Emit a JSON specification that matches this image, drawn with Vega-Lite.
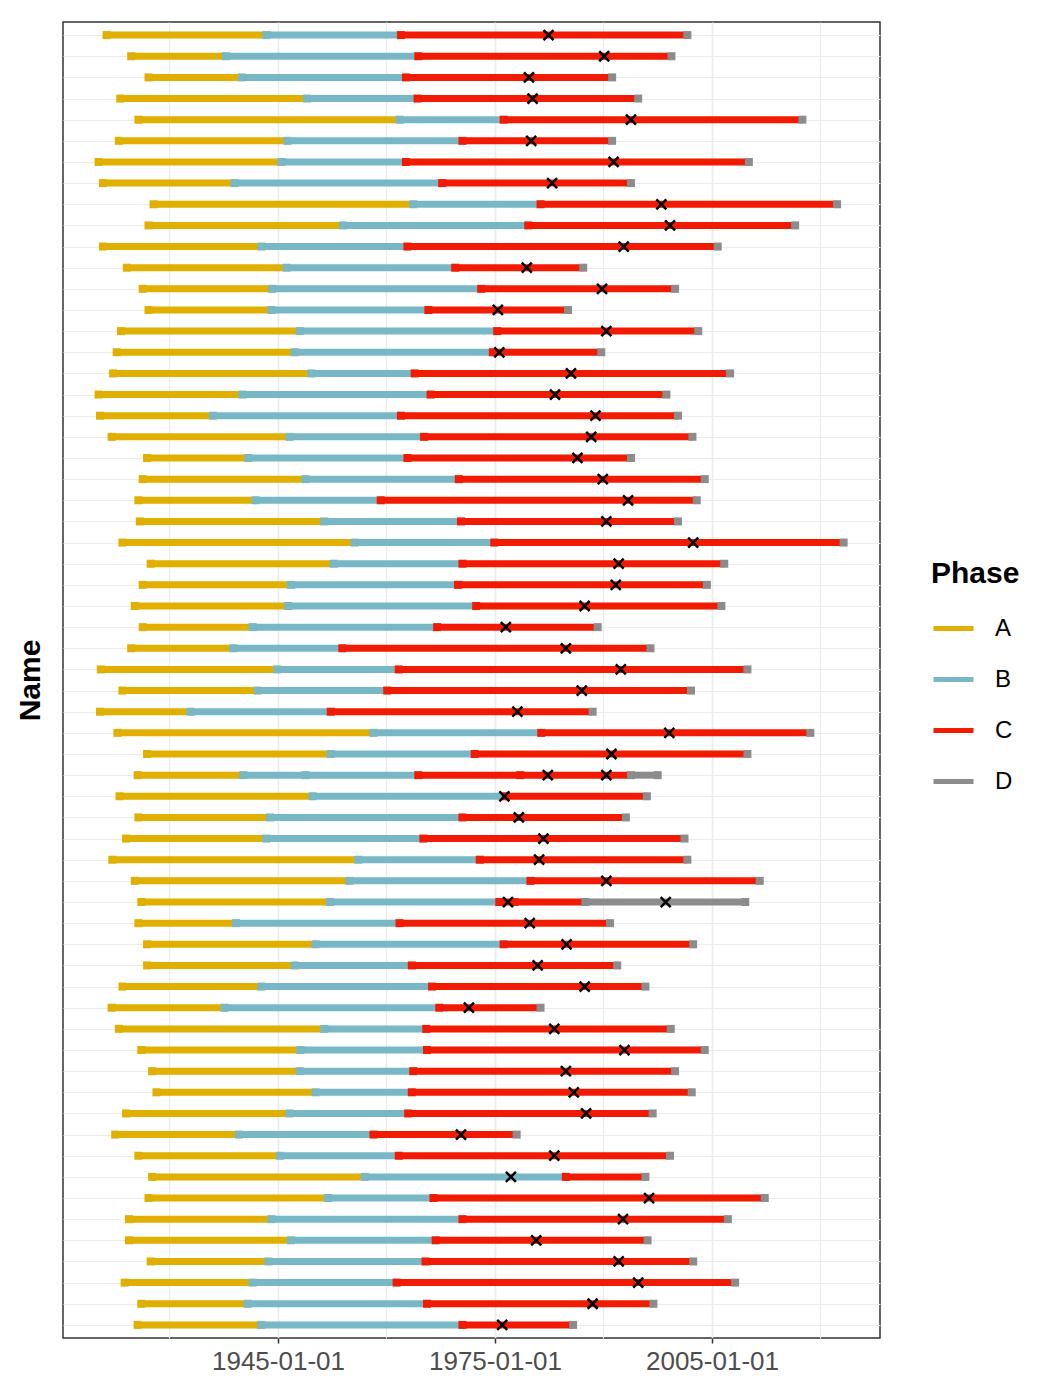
{
  "$schema": "https://vega.github.io/schema/vega-lite/v6.json",
  "width": 817,
  "height": 1316,
  "autosize": {"type": "none"},
  "padding": {"left": 63, "top": 22, "right": 158, "bottom": 38},
  "background": "white",
  "config": {
    "font": "Liberation Sans",
    "view": {"stroke": "#333333", "strokeWidth": 1.5},
    "legend": {
      "orient": "none", "legendX": 868, "legendY": 537, "padding": 0,
      "titleFontSize": 30, "titleFontWeight": "bold", "titleColor": "black", "titlePadding": 17,
      "labelFontSize": 24, "labelColor": "black", "labelOffset": 19,
      "symbolType": "stroke", "symbolStrokeWidth": 5, "symbolSize": 1600, "rowPadding": 16
    }
  },
  "datasets": {
    "seg": [
      {"name":"R01","phase":"A","start":1921.3,"end":1943.4},{"name":"R01","phase":"B","start":1943.4,"end":1962.0},{"name":"R01","phase":"C","start":1962.0,"end":2001.6},
      {"name":"R02","phase":"A","start":1924.7,"end":1937.8},{"name":"R02","phase":"B","start":1937.8,"end":1964.4},{"name":"R02","phase":"C","start":1964.4,"end":1999.4},
      {"name":"R03","phase":"A","start":1927.1,"end":1940.0},{"name":"R03","phase":"B","start":1940.0,"end":1962.7},{"name":"R03","phase":"C","start":1962.7,"end":1991.2},
      {"name":"R04","phase":"A","start":1923.2,"end":1949.0},{"name":"R04","phase":"B","start":1949.0,"end":1964.3},{"name":"R04","phase":"C","start":1964.3,"end":1994.8},
      {"name":"R05","phase":"A","start":1925.7,"end":1961.8},{"name":"R05","phase":"B","start":1961.8,"end":1976.2},{"name":"R05","phase":"C","start":1976.2,"end":2017.5},
      {"name":"R06","phase":"A","start":1923.0,"end":1946.3},{"name":"R06","phase":"B","start":1946.3,"end":1970.5},{"name":"R06","phase":"C","start":1970.5,"end":1991.2},
      {"name":"R07","phase":"A","start":1920.2,"end":1945.5},{"name":"R07","phase":"B","start":1945.5,"end":1962.7},{"name":"R07","phase":"C","start":1962.7,"end":2010.1},
      {"name":"R08","phase":"A","start":1920.8,"end":1939.0},{"name":"R08","phase":"B","start":1939.0,"end":1967.7},{"name":"R08","phase":"C","start":1967.7,"end":1993.8},
      {"name":"R09","phase":"A","start":1927.8,"end":1963.7},{"name":"R09","phase":"B","start":1963.7,"end":1981.3},{"name":"R09","phase":"C","start":1981.3,"end":2022.3},
      {"name":"R10","phase":"A","start":1927.1,"end":1954.0},{"name":"R10","phase":"B","start":1954.0,"end":1979.6},{"name":"R10","phase":"C","start":1979.6,"end":2016.5},
      {"name":"R11","phase":"A","start":1920.8,"end":1942.7},{"name":"R11","phase":"B","start":1942.7,"end":1962.9},{"name":"R11","phase":"C","start":1962.9,"end":2005.8},
      {"name":"R12","phase":"A","start":1924.1,"end":1946.2},{"name":"R12","phase":"B","start":1946.2,"end":1969.5},{"name":"R12","phase":"C","start":1969.5,"end":1987.2},
      {"name":"R13","phase":"A","start":1926.3,"end":1944.2},{"name":"R13","phase":"B","start":1944.2,"end":1973.1},{"name":"R13","phase":"C","start":1973.1,"end":1999.9},
      {"name":"R14","phase":"A","start":1927.1,"end":1944.1},{"name":"R14","phase":"B","start":1944.1,"end":1965.8},{"name":"R14","phase":"C","start":1965.8,"end":1985.1},
      {"name":"R15","phase":"A","start":1923.3,"end":1948.0},{"name":"R15","phase":"B","start":1948.0,"end":1975.3},{"name":"R15","phase":"C","start":1975.3,"end":2003.1},
      {"name":"R16","phase":"A","start":1922.7,"end":1947.3},{"name":"R16","phase":"B","start":1947.3,"end":1974.7},{"name":"R16","phase":"C","start":1974.7,"end":1989.7},
      {"name":"R17","phase":"A","start":1922.2,"end":1949.6},{"name":"R17","phase":"B","start":1949.6,"end":1963.9},{"name":"R17","phase":"C","start":1963.9,"end":2007.5},
      {"name":"R18","phase":"A","start":1920.2,"end":1940.1},{"name":"R18","phase":"B","start":1940.1,"end":1966.1},{"name":"R18","phase":"C","start":1966.1,"end":1998.7},
      {"name":"R19","phase":"A","start":1920.4,"end":1936.0},{"name":"R19","phase":"B","start":1936.0,"end":1962.0},{"name":"R19","phase":"C","start":1962.0,"end":2000.3},
      {"name":"R20","phase":"A","start":1922.0,"end":1946.6},{"name":"R20","phase":"B","start":1946.6,"end":1965.2},{"name":"R20","phase":"C","start":1965.2,"end":2002.3},
      {"name":"R21","phase":"A","start":1926.9,"end":1940.9},{"name":"R21","phase":"B","start":1940.9,"end":1962.9},{"name":"R21","phase":"C","start":1962.9,"end":1993.8},
      {"name":"R22","phase":"A","start":1926.3,"end":1948.8},{"name":"R22","phase":"B","start":1948.8,"end":1970.0},{"name":"R22","phase":"C","start":1970.0,"end":2004.0},
      {"name":"R23","phase":"A","start":1925.7,"end":1941.9},{"name":"R23","phase":"B","start":1941.9,"end":1959.2},{"name":"R23","phase":"C","start":1959.2,"end":2002.9},
      {"name":"R24","phase":"A","start":1925.9,"end":1951.4},{"name":"R24","phase":"B","start":1951.4,"end":1970.3},{"name":"R24","phase":"C","start":1970.3,"end":2000.3},
      {"name":"R25","phase":"A","start":1923.5,"end":1955.6},{"name":"R25","phase":"B","start":1955.6,"end":1974.9},{"name":"R25","phase":"C","start":1974.9,"end":2023.2},
      {"name":"R26","phase":"A","start":1927.4,"end":1952.7},{"name":"R26","phase":"B","start":1952.7,"end":1970.5},{"name":"R26","phase":"C","start":1970.5,"end":2006.7},
      {"name":"R27","phase":"A","start":1926.3,"end":1946.8},{"name":"R27","phase":"B","start":1946.8,"end":1969.9},{"name":"R27","phase":"C","start":1969.9,"end":2004.3},
      {"name":"R28","phase":"A","start":1925.2,"end":1946.4},{"name":"R28","phase":"B","start":1946.4,"end":1972.4},{"name":"R28","phase":"C","start":1972.4,"end":2006.3},
      {"name":"R29","phase":"A","start":1926.3,"end":1941.5},{"name":"R29","phase":"B","start":1941.5,"end":1967.0},{"name":"R29","phase":"C","start":1967.0,"end":1989.2},
      {"name":"R30","phase":"A","start":1924.7,"end":1938.8},{"name":"R30","phase":"B","start":1938.8,"end":1953.9},{"name":"R30","phase":"C","start":1953.9,"end":1996.5},
      {"name":"R31","phase":"A","start":1920.5,"end":1944.9},{"name":"R31","phase":"B","start":1944.9,"end":1961.7},{"name":"R31","phase":"C","start":1961.7,"end":2009.9},
      {"name":"R32","phase":"A","start":1923.5,"end":1942.2},{"name":"R32","phase":"B","start":1942.2,"end":1960.1},{"name":"R32","phase":"C","start":1960.1,"end":2002.1},
      {"name":"R33","phase":"A","start":1920.4,"end":1932.9},{"name":"R33","phase":"B","start":1932.9,"end":1952.3},{"name":"R33","phase":"C","start":1952.3,"end":1988.5},
      {"name":"R34","phase":"A","start":1922.8,"end":1958.2},{"name":"R34","phase":"B","start":1958.2,"end":1981.4},{"name":"R34","phase":"C","start":1981.4,"end":2018.6},
      {"name":"R35","phase":"A","start":1926.9,"end":1952.3},{"name":"R35","phase":"B","start":1952.3,"end":1972.2},{"name":"R35","phase":"C","start":1972.2,"end":2009.9},
      {"name":"R36","phase":"A","start":1925.6,"end":1940.2},{"name":"R36","phase":"B","start":1940.2,"end":1948.8},{"name":"R36","phase":"B","start":1948.8,"end":1964.4},{"name":"R36","phase":"C","start":1964.4,"end":1978.5},{"name":"R36","phase":"C","start":1978.5,"end":1993.8},{"name":"R36","phase":"D","start":1993.8,"end":1997.5},
      {"name":"R37","phase":"A","start":1923.1,"end":1949.8},{"name":"R37","phase":"B","start":1949.8,"end":1976.5},{"name":"R37","phase":"C","start":1976.5,"end":1996.0},
      {"name":"R38","phase":"A","start":1925.7,"end":1943.9},{"name":"R38","phase":"B","start":1943.9,"end":1970.5},{"name":"R38","phase":"C","start":1970.5,"end":1993.1},
      {"name":"R39","phase":"A","start":1924.0,"end":1943.4},{"name":"R39","phase":"B","start":1943.4,"end":1965.1},{"name":"R39","phase":"C","start":1965.1,"end":2001.2},
      {"name":"R40","phase":"A","start":1922.1,"end":1956.1},{"name":"R40","phase":"B","start":1956.1,"end":1972.9},{"name":"R40","phase":"C","start":1972.9,"end":2001.6},
      {"name":"R41","phase":"A","start":1925.2,"end":1954.9},{"name":"R41","phase":"B","start":1954.9,"end":1979.9},{"name":"R41","phase":"C","start":1979.9,"end":2011.6},
      {"name":"R42","phase":"A","start":1926.1,"end":1952.2},{"name":"R42","phase":"B","start":1952.2,"end":1975.6},{"name":"R42","phase":"C","start":1975.6,"end":1977.7},{"name":"R42","phase":"C","start":1977.7,"end":1987.5},{"name":"R42","phase":"D","start":1987.5,"end":2009.6},
      {"name":"R43","phase":"A","start":1925.7,"end":1939.2},{"name":"R43","phase":"B","start":1939.2,"end":1961.8},{"name":"R43","phase":"C","start":1961.8,"end":1990.9},
      {"name":"R44","phase":"A","start":1926.9,"end":1950.2},{"name":"R44","phase":"B","start":1950.2,"end":1976.2},{"name":"R44","phase":"C","start":1976.2,"end":2002.4},
      {"name":"R45","phase":"A","start":1926.9,"end":1947.3},{"name":"R45","phase":"B","start":1947.3,"end":1963.5},{"name":"R45","phase":"C","start":1963.5,"end":1991.9},
      {"name":"R46","phase":"A","start":1923.5,"end":1942.7},{"name":"R46","phase":"B","start":1942.7,"end":1966.3},{"name":"R46","phase":"C","start":1966.3,"end":1995.8},
      {"name":"R47","phase":"A","start":1922.0,"end":1937.6},{"name":"R47","phase":"B","start":1937.6,"end":1967.3},{"name":"R47","phase":"C","start":1967.3,"end":1981.3},
      {"name":"R48","phase":"A","start":1923.0,"end":1951.4},{"name":"R48","phase":"B","start":1951.4,"end":1965.5},{"name":"R48","phase":"C","start":1965.5,"end":1999.3},
      {"name":"R49","phase":"A","start":1926.1,"end":1948.1},{"name":"R49","phase":"B","start":1948.1,"end":1965.6},{"name":"R49","phase":"C","start":1965.6,"end":2004.0},
      {"name":"R50","phase":"A","start":1927.6,"end":1948.0},{"name":"R50","phase":"B","start":1948.0,"end":1963.7},{"name":"R50","phase":"C","start":1963.7,"end":1999.9},
      {"name":"R51","phase":"A","start":1928.2,"end":1950.2},{"name":"R51","phase":"B","start":1950.2,"end":1963.5},{"name":"R51","phase":"C","start":1963.5,"end":2002.2},
      {"name":"R52","phase":"A","start":1924.0,"end":1946.6},{"name":"R52","phase":"B","start":1946.6,"end":1963.0},{"name":"R52","phase":"C","start":1963.0,"end":1996.8},
      {"name":"R53","phase":"A","start":1922.5,"end":1939.6},{"name":"R53","phase":"B","start":1939.6,"end":1958.2},{"name":"R53","phase":"C","start":1958.2,"end":1978.0},
      {"name":"R54","phase":"A","start":1925.7,"end":1945.3},{"name":"R54","phase":"B","start":1945.3,"end":1961.7},{"name":"R54","phase":"C","start":1961.7,"end":1999.2},
      {"name":"R55","phase":"A","start":1927.6,"end":1957.0},{"name":"R55","phase":"B","start":1957.0,"end":1984.8},{"name":"R55","phase":"C","start":1984.8,"end":1995.8},
      {"name":"R56","phase":"A","start":1927.1,"end":1951.9},{"name":"R56","phase":"B","start":1951.9,"end":1966.5},{"name":"R56","phase":"C","start":1966.5,"end":2012.3},
      {"name":"R57","phase":"A","start":1924.4,"end":1944.1},{"name":"R57","phase":"B","start":1944.1,"end":1970.5},{"name":"R57","phase":"C","start":1970.5,"end":2007.2},
      {"name":"R58","phase":"A","start":1924.4,"end":1946.8},{"name":"R58","phase":"B","start":1946.8,"end":1966.8},{"name":"R58","phase":"C","start":1966.8,"end":1996.1},
      {"name":"R59","phase":"A","start":1927.4,"end":1943.7},{"name":"R59","phase":"B","start":1943.7,"end":1965.4},{"name":"R59","phase":"C","start":1965.4,"end":2002.4},
      {"name":"R60","phase":"A","start":1923.8,"end":1941.5},{"name":"R60","phase":"B","start":1941.5,"end":1961.4},{"name":"R60","phase":"C","start":1961.4,"end":2008.2},
      {"name":"R61","phase":"A","start":1926.1,"end":1940.8},{"name":"R61","phase":"B","start":1940.8,"end":1965.6},{"name":"R61","phase":"C","start":1965.6,"end":1996.9},
      {"name":"R62","phase":"A","start":1925.6,"end":1942.7},{"name":"R62","phase":"B","start":1942.7,"end":1970.5},{"name":"R62","phase":"C","start":1970.5,"end":1985.8}
    ],
    "events": [
      {"name":"R01","year":1982.4},{"name":"R02","year":1990.1},{"name":"R03","year":1979.7},{"name":"R04","year":1980.2},
      {"name":"R05","year":1993.8},{"name":"R06","year":1980.0},{"name":"R07","year":1991.4},{"name":"R08","year":1982.9},
      {"name":"R09","year":1998.0},{"name":"R10","year":1999.2},{"name":"R11","year":1992.8},{"name":"R12","year":1979.4},
      {"name":"R13","year":1989.8},{"name":"R14","year":1975.4},{"name":"R15","year":1990.4},{"name":"R16","year":1975.6},
      {"name":"R17","year":1985.5},{"name":"R18","year":1983.3},{"name":"R19","year":1988.9},{"name":"R20","year":1988.3},
      {"name":"R21","year":1986.4},{"name":"R22","year":1989.9},{"name":"R23","year":1993.4},{"name":"R24","year":1990.4},
      {"name":"R25","year":2002.4},{"name":"R26","year":1992.1},{"name":"R27","year":1991.7},{"name":"R28","year":1987.4},
      {"name":"R29","year":1976.5},{"name":"R30","year":1984.8},{"name":"R31","year":1992.4},{"name":"R32","year":1987.0},
      {"name":"R33","year":1978.1},{"name":"R34","year":1999.1},{"name":"R35","year":1991.1},{"name":"R36","year":1982.3},
      {"name":"R36","year":1990.4},{"name":"R37","year":1976.3},{"name":"R38","year":1978.3},{"name":"R39","year":1981.7},
      {"name":"R40","year":1981.1},{"name":"R41","year":1990.4},{"name":"R42","year":1976.8},{"name":"R42","year":1998.6},
      {"name":"R43","year":1979.8},{"name":"R44","year":1984.9},{"name":"R45","year":1980.9},{"name":"R46","year":1987.4},
      {"name":"R47","year":1971.4},{"name":"R48","year":1983.2},{"name":"R49","year":1992.9},{"name":"R50","year":1984.8},
      {"name":"R51","year":1985.9},{"name":"R52","year":1987.6},{"name":"R53","year":1970.3},{"name":"R54","year":1983.2},
      {"name":"R55","year":1977.2},{"name":"R56","year":1996.3},{"name":"R57","year":1992.7},{"name":"R58","year":1980.7},
      {"name":"R59","year":1992.1},{"name":"R60","year":1994.8},{"name":"R61","year":1988.5},{"name":"R62","year":1976.0}
    ]
  },
  "encoding": {
    "y": {
      "field": "name", "type": "nominal", "sort": "ascending",
      "scale": {"type": "point", "padding": 0.62},
      "axis": {
        "title": "Name", "labels": false, "ticks": false, "domain": false,
        "grid": true, "gridColor": "#EBEBEB", "gridWidth": 1.2,
        "titleFontSize": 30, "titleFontWeight": "bold", "titleColor": "black",
        "titleX": -24, "titleY": 658, "titleBaseline": "alphabetic", "titleAngle": 270, "titleAlign": "center"
      }
    }
  },
  "layer": [
    {
      "data": {"name": "seg"},
      "mark": {"type": "rule", "strokeWidth": 7},
      "encoding": {
        "x": {
          "field": "start", "type": "quantitative",
          "scale": {"domain": [1915.28, 2028.23], "nice": false, "zero": false},
          "axis": {
            "title": null, "domain": false,
            "values": [1930, 1945, 1960, 1975, 1990, 2005, 2020],
            "labelExpr": "(datum.value % 30 == 25) ? datum.value + '-01-01' : ''",
            "labelFontSize": 26, "labelColor": "#4D4D4D", "labelPadding": 5, "labelOverlap": false, "labelFlush": false,
            "tickSize": 5, "tickWidth": 1.5, "tickColor": "#333333",
            "tickOpacity": {"condition": {"test": "datum.value % 30 == 25", "value": 1}, "value": 0},
            "grid": true, "gridColor": "#EBEBEB",
            "gridWidth": {"condition": {"test": "datum.value % 30 == 25", "value": 1.6}, "value": 1.2}
          }
        },
        "x2": {"field": "end"},
        "color": {
          "field": "phase", "type": "nominal", "title": "Phase",
          "scale": {"domain": ["A", "B", "C", "D"], "range": ["#E1AF00", "#78B7C5", "#F21A00", "#8C8C8C"]},
          "legend": {"title": "Phase", "symbolType": "stroke"}
        }
      }
    },
    {
      "data": {"name": "seg"},
      "mark": {"type": "point", "shape": "square", "filled": true, "size": 64, "opacity": 1},
      "encoding": {
        "x": {"field": "start", "type": "quantitative"},
        "color": {"field": "phase", "type": "nominal", "title": "Phase"}
      }
    },
    {
      "data": {"name": "seg"},
      "transform": [{"aggregate": [{"op": "max", "field": "end", "as": "last"}], "groupby": ["name"]}],
      "mark": {"type": "point", "shape": "square", "filled": true, "size": 64, "opacity": 1, "color": "#8C8C8C"},
      "encoding": {
        "x": {"field": "last", "type": "quantitative"}
      }
    },
    {
      "data": {"name": "events"},
      "mark": {"type": "point", "shape": "M-1,-1L1,1M-1,1L1,-1", "filled": false, "stroke": "black", "strokeWidth": 2.5, "size": 100, "opacity": 1},
      "encoding": {
        "x": {"field": "year", "type": "quantitative"}
      }
    }
  ]
}
